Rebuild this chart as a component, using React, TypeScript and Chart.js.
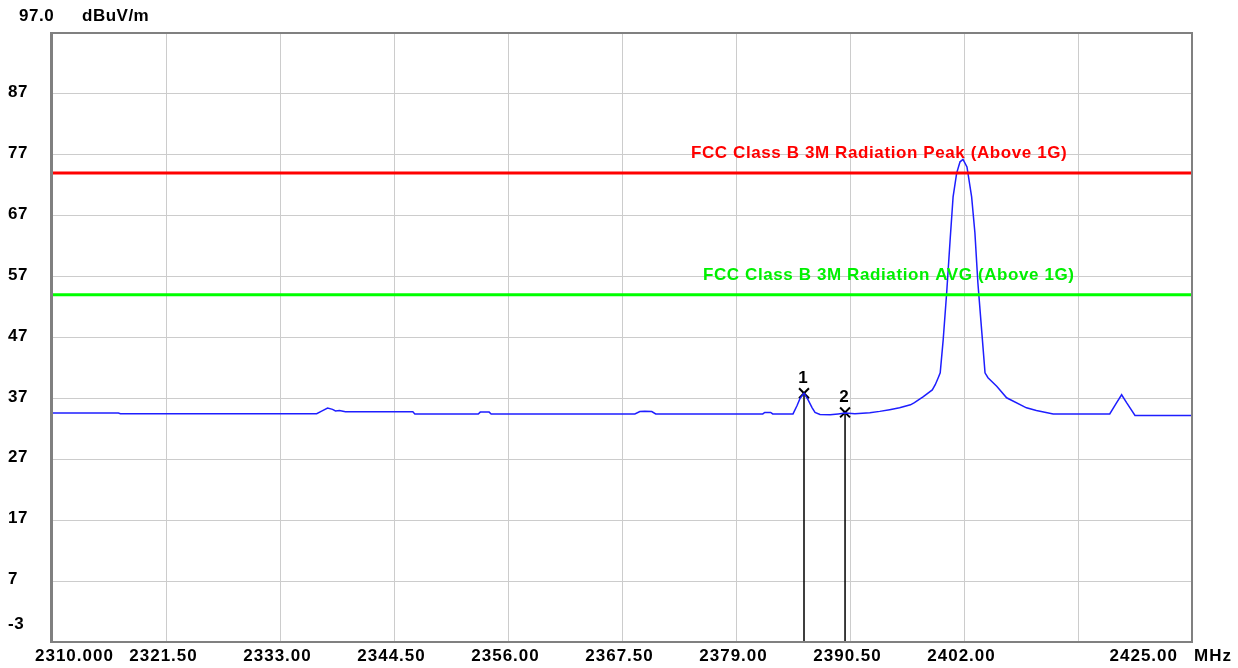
import React, { useEffect, useRef } from "react";
import { Chart, registerables } from "chart.js";

Chart.register(...registerables);

// ---- data ----
const traceFreq = [
  2310.0, 2316.7, 2316.9, 2336.7, 2337.2, 2337.8, 2338.3, 2338.6, 2339.0, 2339.6,
  2346.4, 2346.6, 2353.0, 2353.2, 2354.1, 2354.3, 2368.8, 2369.3, 2369.8, 2370.5,
  2370.9, 2381.7, 2381.9, 2382.5, 2382.7, 2384.75, 2385.15, 2385.46, 2385.86, 2386.26,
  2386.67, 2386.97, 2387.47, 2388.5, 2389.3, 2390.0, 2391.0, 2392.5, 2393.5, 2394.5,
  2395.5, 2396.6, 2397.0, 2397.9, 2398.8, 2399.1, 2399.4, 2399.6, 2399.9, 2400.25,
  2400.6, 2400.9, 2401.26, 2401.6, 2401.9, 2402.3, 2402.77, 2403.1, 2403.4, 2403.8,
  2404.12, 2404.42, 2405.3, 2406.3, 2408.3, 2409.3, 2411.0, 2416.7, 2417.4, 2417.9,
  2418.4, 2419.25, 2425.0,
];
const traceLevel = [
  34.6, 34.6, 34.5, 34.5, 34.9, 35.4, 35.2, 34.95, 35.0, 34.8,
  34.8, 34.45, 34.45, 34.75, 34.75, 34.45, 34.45, 34.85, 34.9, 34.85,
  34.45, 34.45, 34.7, 34.7, 34.45, 34.45, 35.8, 37.0, 37.85, 36.8,
  35.5, 34.7, 34.35, 34.3, 34.45, 34.6, 34.5, 34.65, 34.87, 35.15,
  35.45, 35.95, 36.3, 37.3, 38.4, 39.25, 40.4, 41.2, 46.6, 54.3,
  63.0, 70.1, 74.0, 75.85, 76.25, 75.0, 70.1, 64.2, 56.0, 47.8,
  41.2, 40.4, 39.0, 37.1, 35.45, 35.0, 34.45, 34.45, 36.3, 37.6,
  36.3, 34.2, 34.2,
];

const peakLimit = 74;
const avgLimit = 54;
const peakLimitLabel = "FCC Class B 3M Radiation Peak (Above 1G)";
const avgLimitLabel = "FCC Class B 3M Radiation AVG (Above 1G)";

const markerFreq = [2385.86, 2390.0];
const markerLevel = [37.85, 34.7];
const markerNames = ["1", "2"];

const xMin = 2310;
const xMax = 2425;
const xTicks = [2310, 2321.5, 2333, 2344.5, 2356, 2367.5, 2379, 2390.5, 2402, 2413.5, 2425];
const xTickLabels = ["2310.000", "2321.50", "2333.00", "2344.50", "2356.00", "2367.50", "2379.00", "2390.50", "2402.00", "", "2425.00"];
const yMin = -3;
const yMax = 97;
const yTicks = [-3, 7, 17, 27, 37, 47, 57, 67, 77, 87, 97];
const yTickLabels = ["-3", "7", "17", "27", "37", "47", "57", "67", "77", "87", "97.0"];
const yUnit = "dBuV/m";
const xUnit = "MHz";

const FONT = "bold 17px 'Liberation Sans', Arial, sans-serif";

const overlay = {
  id: "overlay",
  afterDatasetsDraw(chart: any) {
    const { ctx, chartArea } = chart;
    const xs = chart.scales.x;
    const ys = chart.scales.y;
    ctx.save();
    // frame
    ctx.strokeStyle = "#808080";
    ctx.lineWidth = 2;
    ctx.strokeRect(chartArea.left - 1, chartArea.top, chartArea.right - chartArea.left + 1, chartArea.bottom - chartArea.top);
    ctx.fillStyle = "#808080";
    ctx.fillRect(chartArea.left - 2, chartArea.top - 1, 3, chartArea.bottom - chartArea.top + 2);

    // y labels
    ctx.fillStyle = "#000";
    ctx.font = FONT;
    (ctx as any).letterSpacing = "0.5px";
    ctx.textBaseline = "middle";
    ctx.textAlign = "left";
    yTicks.forEach((v, i) => {
      const t = yTickLabels[i];
      if (v === yMax) {
        ctx.fillText(t, 19, 16);
      } else if (v === yMin) {
        ctx.fillText(t, 8, ys.getPixelForValue(v) - 18);
      } else {
        ctx.fillText(t, 8, ys.getPixelForValue(v) - 1.5);
      }
    });
    ctx.fillText(yUnit, 82, 16);

    // x labels
    (ctx as any).letterSpacing = "1px";
    const ly = 656;
    xTicks.forEach((v, i) => {
      const t = xTickLabels[i];
      if (!t) return;
      const px = xs.getPixelForValue(v);
      if (i === 0) {
        ctx.textAlign = "left";
        ctx.fillText(t, px - 17, ly);
      } else if (i === xTicks.length - 1) {
        ctx.textAlign = "right";
        ctx.fillText(t, px - 14, ly);
      } else {
        ctx.textAlign = "center";
        ctx.fillText(t, px - 2.5, ly);
      }
    });
    ctx.textAlign = "left";
    ctx.fillText(xUnit, 1194, ly);

    // limit labels
    (ctx as any).letterSpacing = "0.6px";
    ctx.fillStyle = "#ff0000";
    ctx.fillText(peakLimitLabel, 691, ys.getPixelForValue(peakLimit) - 19.5);
    ctx.fillStyle = "#00f000";
    ctx.fillText(avgLimitLabel, 703, ys.getPixelForValue(avgLimit) - 19.5);

    // marker names
    ctx.fillStyle = "#000";
    ctx.font = "bold 17px 'Liberation Sans', Arial, sans-serif";
    (ctx as any).letterSpacing = "0px";
    ctx.textAlign = "center";
    markerFreq.forEach((f, i) => {
      ctx.fillText(markerNames[i], xs.getPixelForValue(f) - 1, ys.getPixelForValue(markerLevel[i]) - 15);
    });
    ctx.restore();
  },
};

export default function App() {
  const ref = useRef<HTMLCanvasElement>(null);
  useEffect(() => {
    if (!ref.current) return;
    const datasets: any[] = [
      {
        data: [{ x: xMin, y: peakLimit }, { x: xMax, y: peakLimit }],
        borderColor: "#ff0000",
        borderWidth: 3,
        pointRadius: 0,
      },
      {
        data: [{ x: xMin, y: avgLimit }, { x: xMax, y: avgLimit }],
        borderColor: "#00ff00",
        borderWidth: 3,
        pointRadius: 0,
      },
      {
        data: traceFreq.map((f, i) => ({ x: f, y: traceLevel[i] })),
        borderColor: "#1e1eff",
        borderWidth: 1.5,
        pointRadius: 0,
        tension: 0,
      },
    ];
    markerFreq.forEach((f, i) => {
      datasets.push({
        data: [{ x: f, y: markerLevel[i] }, { x: f, y: yMin }],
        borderColor: "#000",
        borderWidth: 1.5,
        pointRadius: [7, 0],
        pointStyle: "crossRot",
        pointBorderColor: "#000",
        pointBorderWidth: 2,
      });
    });
    const chart = new Chart(ref.current, {
      type: "line",
      data: { datasets },
      options: {
        animation: false,
        responsive: false,
        parsing: false as any,
        layout: { padding: { left: 52, right: 46, top: 33, bottom: 26 } },
        plugins: { legend: { display: false }, tooltip: { enabled: false } },
        scales: {
          x: {
            type: "linear",
            min: xMin,
            max: xMax,
            afterBuildTicks: (s: any) => {
              s.ticks = xTicks.map((v) => ({ value: v }));
            },
            ticks: { display: false },
            grid: { color: "#cccccc", lineWidth: 1, drawTicks: false },
            border: { display: false },
          },
          y: {
            type: "linear",
            min: yMin,
            max: yMax,
            afterBuildTicks: (s: any) => {
              s.ticks = yTicks.map((v) => ({ value: v }));
            },
            ticks: { display: false },
            grid: { color: "#cccccc", lineWidth: 1, drawTicks: false },
            border: { display: false },
          },
        },
      },
      plugins: [overlay],
    });
    return () => chart.destroy();
  }, []);
  return (
    <div style={{ position: "fixed", left: 0, top: 0, width: 1238, height: 668, background: "#fff" }}>
      <canvas ref={ref} width={1238} height={668} style={{ display: "block" }} />
    </div>
  );
}
